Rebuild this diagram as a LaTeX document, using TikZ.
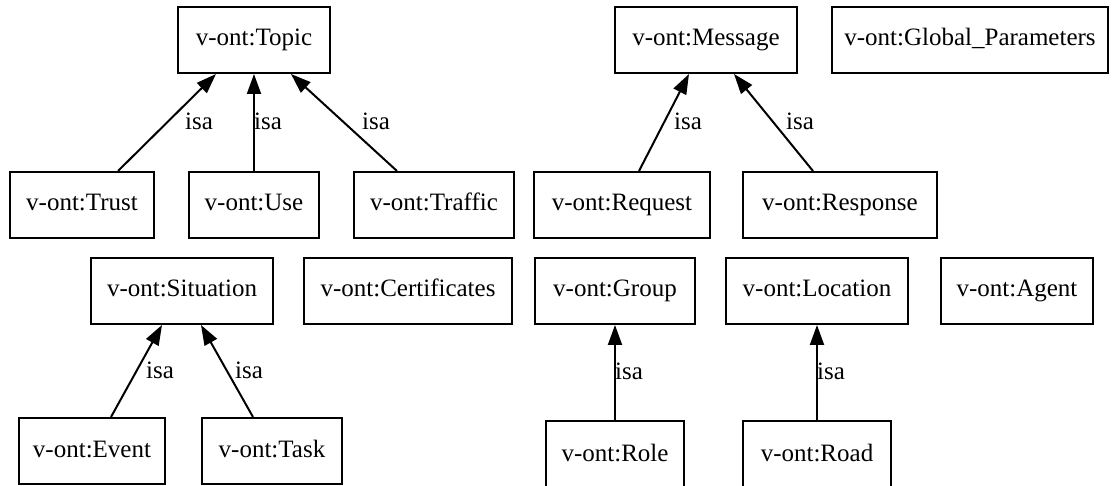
\documentclass[tikz,border=0pt]{standalone}
\usepackage{fontspec}
\setmainfont{Liberation Serif}
\newfontfamily\diagfont{Liberation Serif}
\usetikzlibrary{arrows.meta}
\begin{document}
\begin{tikzpicture}[x=1pt,y=-1pt,
  cls/.style={draw=black, line width=2pt, fill=white, inner sep=0pt,
    font=\diagfont\fontsize{25}{30}\selectfont, text height=17pt, text depth=5pt},
  isaedge/.style={line width=2pt, -{Triangle[length=20pt,width=14pt]}},
  isalabel/.style={anchor=base west, inner sep=0pt, font=\diagfont\fontsize{25}{30}\selectfont}]
\useasboundingbox (0,0) rectangle (1112,486);

% classes, top row
\node[cls, minimum width=152pt, minimum height=66pt] (topic)   at (254,40) {v-ont:Topic};
\node[cls, minimum width=182pt, minimum height=66pt] (message) at (706,40) {v-ont:Message};
\node[cls, minimum width=276pt, minimum height=66pt] (global)  at (970,40) {v-ont:Global\_Parameters};

% second row
\node[cls, minimum width=144pt, minimum height=66pt] (trust)    at (82,205)  {v-ont:Trust};
\node[cls, minimum width=130pt, minimum height=66pt] (use)      at (254,205) {v-ont:Use};
\node[cls, minimum width=160pt, minimum height=66pt] (traffic)  at (434,205) {v-ont:Traffic};
\node[cls, minimum width=176pt, minimum height=66pt] (request)  at (622,205) {v-ont:Request};
\node[cls, minimum width=194pt, minimum height=66pt] (response) at (840,205) {v-ont:Response};

% third row
\node[cls, minimum width=182pt, minimum height=66pt] (situation)    at (182,291)  {v-ont:Situation};
\node[cls, minimum width=208pt, minimum height=66pt] (certificates) at (408,291)  {v-ont:Certificates};
\node[cls, minimum width=160pt, minimum height=66pt] (group)        at (615,291)  {v-ont:Group};
\node[cls, minimum width=182pt, minimum height=66pt] (location)     at (817,291)  {v-ont:Location};
\node[cls, minimum width=152pt, minimum height=66pt] (agent)        at (1017,291) {v-ont:Agent};

% bottom row
\node[cls, minimum width=146pt, minimum height=66pt] (event) at (92,451)  {v-ont:Event};
\node[cls, minimum width=140pt, minimum height=66pt] (task)  at (272,451) {v-ont:Task};
\node[cls, minimum width=138pt, minimum height=68pt] (role)  at (615,455) {v-ont:Role};
\node[cls, minimum width=148pt, minimum height=68pt] (road)  at (817,455) {v-ont:Road};

% isa edges
\draw[isaedge] ([xshift=36pt]trust.north)     -- ([xshift=-38pt]topic.south);
\draw[isaedge] (use.north)                     -- (topic.south);
\draw[isaedge] ([xshift=-37pt]traffic.north)  -- ([xshift=37pt]topic.south);
\draw[isaedge] ([xshift=19pt]event.north)     -- ([xshift=-20pt]situation.south);
\draw[isaedge] ([xshift=-19pt]task.north)     -- ([xshift=19pt]situation.south);
\draw[isaedge] ([xshift=17pt]request.north)   -- ([xshift=-17pt]message.south);
\draw[isaedge] ([xshift=-27pt]response.north) -- ([xshift=28pt]message.south);
\draw[isaedge] (role.north) -- (group.south);
\draw[isaedge] (road.north) -- (location.south);

% edge labels
\node[isalabel] (l1) at (185,130) {isa};
\node[isalabel] (l2) at (254,130) {isa};
\node[isalabel] (l3) at (362,130) {isa};
\node[isalabel] (l4) at (146,379) {isa};
\node[isalabel] (l5) at (235,379) {isa};
\node[isalabel] (l6) at (674,130) {isa};
\node[isalabel] (l7) at (786,130) {isa};
\node[isalabel] (l8) at (615,380) {isa};
\node[isalabel] (l9) at (817,380) {isa};
\end{tikzpicture}
\end{document}
